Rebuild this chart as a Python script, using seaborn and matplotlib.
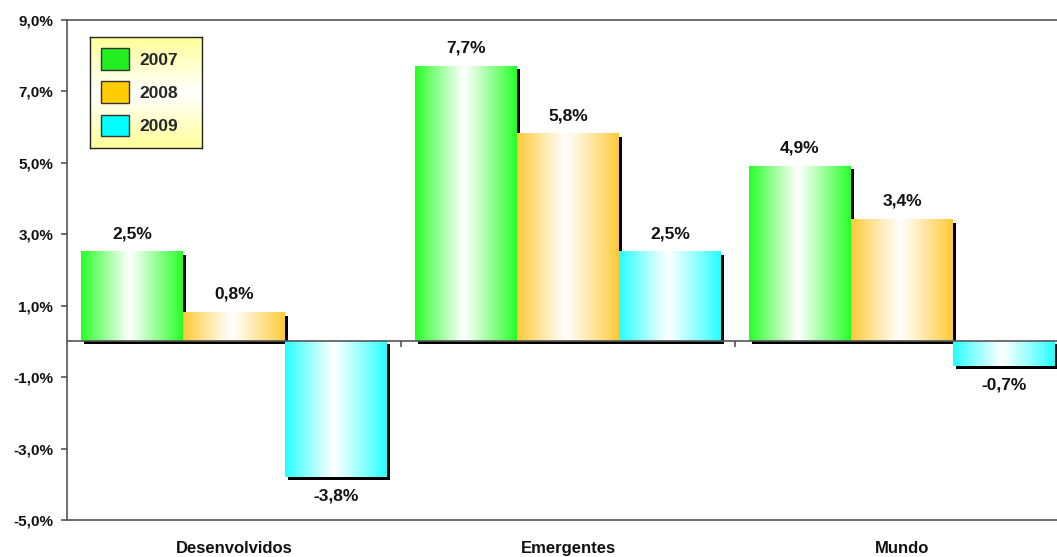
import numpy as np
import pandas as pd
import matplotlib
matplotlib.use("Agg")
import matplotlib.pyplot as plt
import matplotlib.transforms as mtransforms
from matplotlib.patches import Rectangle, Patch
from matplotlib.colors import to_rgb
import seaborn as sns

categories = ["Desenvolvidos", "Emergentes", "Mundo"]
years = ["2007", "2008", "2009"]
v2007 = [2.5, 7.7, 4.9]
v2008 = [0.8, 5.8, 3.4]
v2009 = [-3.8, 2.5, -0.7]
yticks = [-5, -3, -1, 1, 3, 5, 7, 9]

bar_colors = {"2007": "#22FF22", "2008": "#FFC933", "2009": "#22FFFF"}
legend_colors = {"2007": "#22EE22", "2008": "#FFCC00", "2009": "#00FFFF"}

rows = []
for yr, vals in zip(years, [v2007, v2008, v2009]):
    for c, v in zip(categories, vals):
        rows.append({"cat": c, "year": yr, "val": v})
df = pd.DataFrame(rows)

sns.set_theme(style="white")
plt.rcParams["font.family"] = ["Liberation Sans", "DejaVu Sans"]
plt.rcParams["font.weight"] = "bold"

fig = plt.figure(figsize=(10.57, 5.57), dpi=100)
W, H = 1057, 557
ax = fig.add_axes([67 / W, 37 / H, 1002 / W, 500 / H])

sns.barplot(data=df, x="cat", y="val", hue="year", palette=bar_colors,
            width=0.916, ax=ax, legend=False, linewidth=0, saturation=1,
            zorder=3)

# gradient fill + shadow for each bar
shadow_off = mtransforms.ScaledTranslation(3 / 100, -3 / 100, fig.dpi_scale_trans)
N = 200
t = np.linspace(0, 1, N)
w = np.clip(1 - np.abs(t - 0.48) / np.where(t < 0.48, 0.48, 0.52), 0, 1) ** 0.9
for cont in ax.containers:
    for p in cont.patches:
        x, y0 = p.get_x(), p.get_y()
        bw, bh = p.get_width(), p.get_height()
        col = np.array(to_rgb(p.get_facecolor()))
        img = col[None, :] * (1 - w[:, None]) + np.ones(3)[None, :] * w[:, None]
        img = img[None, :, :]
        y_lo, y_hi = min(y0, y0 + bh), max(y0, y0 + bh)
        ax.imshow(img, extent=[x, x + bw, y_lo, y_hi], aspect="auto",
                  zorder=3.5, interpolation="bilinear")
        sh = Rectangle((x, y0), bw, bh, facecolor="black", edgecolor="none",
                       transform=ax.transData + shadow_off, zorder=2.5)
        ax.add_patch(sh)

# value labels
for cont, yr in zip(ax.containers, years):
    labels = [f"{v:.1f}%".replace(".", ",") for v in cont.datavalues]
    ax.bar_label(cont, labels=labels, padding=8, fontsize=12.5,
                 fontweight="bold", color="#111111", zorder=5)

ax.set_xlim(-0.5, 2.5)
ax.set_ylim(-5, 9)
ax.set_yticks(yticks)
ax.set_yticklabels([f"{v:.1f}%".replace(".", ",") for v in yticks],
                   fontsize=11, fontweight="bold")
ax.set_xticklabels(categories, fontsize=12, fontweight="bold")
ax.set_xlabel("")
ax.set_ylabel("")

for s in ["left", "bottom", "top", "right"]:
    ax.spines[s].set_visible(True)
    ax.spines[s].set_color("#555555")
    ax.spines[s].set_linewidth(1.2)

ax.tick_params(axis="y", left=True, length=4, width=1.2, color="#555555",
               pad=6, labelcolor="#111111")
ax.tick_params(axis="x", bottom=False, length=0, pad=15, labelcolor="#111111")

# zero axis line with category separator ticks
ax.axhline(0, color="#555555", lw=1.2, zorder=4)
ax.vlines([0.5, 1.5], -0.15, 0, color="#555555", lw=1.2, zorder=4)

# legend
handles = [Patch(facecolor=legend_colors[y], edgecolor="#333333", linewidth=1.0)
           for y in years]
leg = fig.legend(handles, years, loc="upper left",
                 bbox_to_anchor=(90 / W, 1 - 37 / H),
                 bbox_transform=fig.transFigure, borderaxespad=0,
                 prop={"family": "Liberation Sans", "weight": "bold", "size": 12.5},
                 handlelength=1.6, handleheight=1.55, labelspacing=0.66,
                 handletextpad=0.6, borderpad=0.65, frameon=False)
leg.set_zorder(10)

fig.canvas.draw()
bbp = leg.get_window_extent()
extra_right = 13
x0, y0p = bbp.x0, bbp.y0
gax = fig.add_axes([x0 / W, y0p / H, (bbp.width + extra_right) / W, bbp.height / H],
                   zorder=5)
gt = np.linspace(0, 1, 100)
gw = np.clip(1 - np.abs(gt - 0.5) / 0.5, 0, 1)
c1 = np.array(to_rgb("#FFFF99"))
gimg = c1[None, :] * (1 - gw[:, None]) + np.ones(3)[None, :] * gw[:, None]
gax.imshow(gimg[:, None, :], aspect="auto", extent=[0, 1, 0, 1])
gax.set_xticks([])
gax.set_yticks([])
for s in gax.spines.values():
    s.set_visible(True)
    s.set_color("#222222")
    s.set_linewidth(1.0)

fig.savefig("out.png", dpi=100)
